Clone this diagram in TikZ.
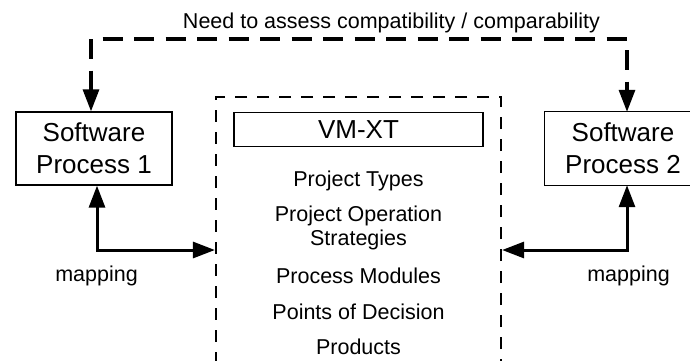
\documentclass[tikz,border=0pt]{standalone}
\usepackage{fontspec}
\setmainfont{Liberation Sans}
\usetikzlibrary{arrows.meta}
\begin{document}
\begin{tikzpicture}[x=1pt,y=-1pt,
  boxline/.style={line width=1.3pt},
  procbox/.style={minimum width=156pt, minimum height=73pt, inner sep=0pt, align=center,
    font=\fontsize{26pt}{31.6pt}\selectfont},
  vmframe/.style={draw, line width=2.2pt, dash pattern=on 12pt off 10pt, minimum width=285pt, minimum height=275pt, inner sep=0pt},
  vmbox/.style={draw, boxline, minimum width=249pt, minimum height=34pt, inner sep=0pt,
    font=\fontsize{26pt}{31.6pt}\selectfont},
  item/.style={anchor=base, inner sep=0pt, font=\fontsize{21.5pt}{24.7pt}\selectfont},
  tip/.style={-{Triangle[length=22pt,width=16pt]}},
  topline/.style={line width=3.2pt, dash pattern=on 20pt off 11.5pt},
  mapline/.style={line width=3pt, {Triangle[length=22pt,width=16pt]}-{Triangle[length=22pt,width=16pt]}}
]
\useasboundingbox (0,0) rectangle (690,360);
\clip (0,0) rectangle (690,360);
\node[procbox, draw, boxline] (sp1) at (94,148.5) {Software\\Process 1};
\node[procbox] (sp2) at (623,148.5) {Software\\Process 2};
\draw[boxline] (sp2.north east) -- (sp2.north west) -- (sp2.south west) -- (sp2.south east);
\node[vmframe] (frame) at (358.5,234.5) {};
\node[vmbox] (vm) at (358.5,129.5) {VM-XT};
\node[item] (pt) at (358.5,186.7) {Project Types};
\node[item, align=center] (pos) at (358.5,245.7) {Project Operation\\Strategies};
\node[item] (pm) at (358.5,283.3) {Process Modules};
\node[item] (pd) at (358.5,319.3) {Points of Decision};
\node[item] (pr) at (358.5,354.3) {Products};
\node[item] (need) at (391.5,28.3) {Need to assess compatibility / comparability};
\node[item] (map1) at (96.5,281.7) {mapping};
\node[item] (map2) at (628.5,281.7) {mapping};
\coordinate (tl) at (91,39);
\coordinate (tr) at (627,39);
\coordinate (ml) at (97,250);
\coordinate (mr) at (627,250);
\draw[topline, tip] (tl) -- (sp1.north -| tl);
\draw[topline, tip, dash phase=20pt] (tl) -- (tr) -- (sp2.north -| tr);
\draw[mapline] (ml -| frame.west) -- (ml) -- (sp1.south -| ml);
\draw[mapline] (mr -| frame.east) -- (mr) -- (sp2.south -| mr);
\end{tikzpicture}
\end{document}
